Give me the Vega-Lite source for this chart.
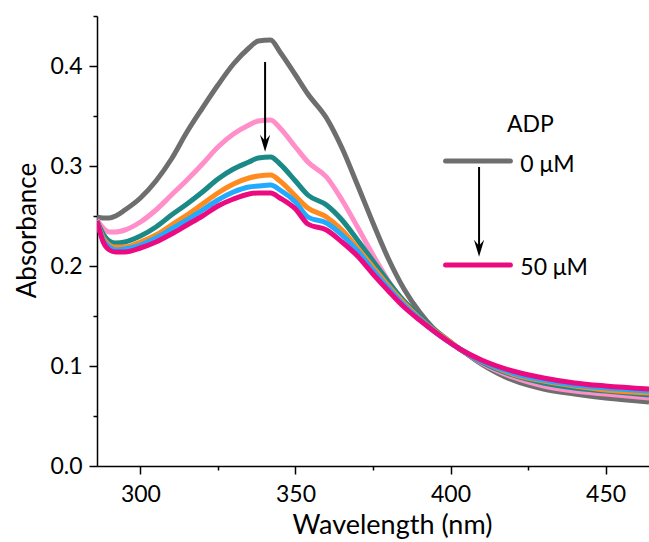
{
  "$schema": "https://vega.github.io/schema/vega-lite/v6.json",
  "width": 552,
  "height": 450,
  "autosize": "none",
  "padding": {"left": 97, "top": 16, "right": 0, "bottom": 76},
  "background": "white",
  "config": {
    "view": {"stroke": null},
    "font": "Lato",
    "axis": {"grid": false, "domainColor": "black", "domainWidth": 1.5, "tickColor": "black", "tickWidth": 1.5, "labelFont": "Lato", "labelFontSize": 23, "labelColor": "black", "titleFont": "Lato", "titleFontWeight": "normal", "titleColor": "black", "labelOverlap": false, "labelFlush": false}
  },
  "layer": [
    {
      "data": {"values": [
        {"c":"0","w":286,"a":0.249},{"c":"0","w":288,"a":0.248},{"c":"0","w":290,"a":0.248},{"c":"0","w":292,"a":0.250},{"c":"0","w":295,"a":0.256},{"c":"0","w":300,"a":0.268},{"c":"0","w":305,"a":0.285},{"c":"0","w":310,"a":0.307},{"c":"0","w":315,"a":0.334},{"c":"0","w":320,"a":0.358},{"c":"0","w":325,"a":0.381},{"c":"0","w":330,"a":0.402},{"c":"0","w":335,"a":0.418},{"c":"0","w":338,"a":0.425},{"c":"0","w":342,"a":0.426},{"c":"0","w":345,"a":0.414},{"c":"0","w":350,"a":0.391},{"c":"0","w":354,"a":0.372},{"c":"0","w":360,"a":0.348},{"c":"0","w":365,"a":0.318},{"c":"0","w":370,"a":0.281},{"c":"0","w":375,"a":0.243},{"c":"0","w":380,"a":0.207},{"c":"0","w":385,"a":0.177},{"c":"0","w":390,"a":0.154},{"c":"0","w":395,"a":0.136},{"c":"0","w":400,"a":0.123},{"c":"0","w":403,"a":0.117},{"c":"0","w":410,"a":0.102},{"c":"0","w":420,"a":0.086},{"c":"0","w":430,"a":0.077},{"c":"0","w":440,"a":0.072},{"c":"0","w":450,"a":0.068},{"c":"0","w":464,"a":0.064},
        {"c":"10","w":286,"a":0.246},{"c":"10","w":288,"a":0.238},{"c":"10","w":290,"a":0.234},{"c":"10","w":292,"a":0.234},{"c":"10","w":295,"a":0.236},{"c":"10","w":300,"a":0.244},{"c":"10","w":305,"a":0.256},{"c":"10","w":310,"a":0.271},{"c":"10","w":315,"a":0.286},{"c":"10","w":320,"a":0.302},{"c":"10","w":325,"a":0.319},{"c":"10","w":330,"a":0.332},{"c":"10","w":335,"a":0.341},{"c":"10","w":338,"a":0.345},{"c":"10","w":342,"a":0.346},{"c":"10","w":345,"a":0.338},{"c":"10","w":350,"a":0.319},{"c":"10","w":354,"a":0.304},{"c":"10","w":360,"a":0.289},{"c":"10","w":365,"a":0.266},{"c":"10","w":370,"a":0.239},{"c":"10","w":375,"a":0.211},{"c":"10","w":380,"a":0.185},{"c":"10","w":385,"a":0.163},{"c":"10","w":390,"a":0.147},{"c":"10","w":395,"a":0.134},{"c":"10","w":400,"a":0.123},{"c":"10","w":403,"a":0.117},{"c":"10","w":410,"a":0.103},{"c":"10","w":420,"a":0.089},{"c":"10","w":430,"a":0.080},{"c":"10","w":440,"a":0.075},{"c":"10","w":450,"a":0.072},{"c":"10","w":464,"a":0.068},
        {"c":"20","w":286,"a":0.245},{"c":"20","w":288,"a":0.232},{"c":"20","w":290,"a":0.225},{"c":"20","w":292,"a":0.223},{"c":"20","w":295,"a":0.224},{"c":"20","w":300,"a":0.230},{"c":"20","w":305,"a":0.239},{"c":"20","w":310,"a":0.251},{"c":"20","w":315,"a":0.262},{"c":"20","w":320,"a":0.274},{"c":"20","w":325,"a":0.287},{"c":"20","w":330,"a":0.297},{"c":"20","w":335,"a":0.304},{"c":"20","w":338,"a":0.308},{"c":"20","w":342,"a":0.309},{"c":"20","w":345,"a":0.302},{"c":"20","w":350,"a":0.285},{"c":"20","w":354,"a":0.271},{"c":"20","w":360,"a":0.261},{"c":"20","w":365,"a":0.246},{"c":"20","w":370,"a":0.226},{"c":"20","w":375,"a":0.205},{"c":"20","w":380,"a":0.184},{"c":"20","w":385,"a":0.165},{"c":"20","w":390,"a":0.150},{"c":"20","w":395,"a":0.136},{"c":"20","w":400,"a":0.124},{"c":"20","w":403,"a":0.117},{"c":"20","w":410,"a":0.104},{"c":"20","w":420,"a":0.091},{"c":"20","w":430,"a":0.083},{"c":"20","w":440,"a":0.078},{"c":"20","w":450,"a":0.075},{"c":"20","w":464,"a":0.071},
        {"c":"30","w":286,"a":0.244},{"c":"30","w":288,"a":0.228},{"c":"30","w":290,"a":0.221},{"c":"30","w":292,"a":0.219},{"c":"30","w":295,"a":0.219},{"c":"30","w":300,"a":0.224},{"c":"30","w":305,"a":0.231},{"c":"30","w":310,"a":0.241},{"c":"30","w":315,"a":0.251},{"c":"30","w":320,"a":0.262},{"c":"30","w":325,"a":0.273},{"c":"30","w":330,"a":0.282},{"c":"30","w":335,"a":0.288},{"c":"30","w":338,"a":0.290},{"c":"30","w":342,"a":0.291},{"c":"30","w":345,"a":0.285},{"c":"30","w":350,"a":0.270},{"c":"30","w":354,"a":0.258},{"c":"30","w":360,"a":0.249},{"c":"30","w":365,"a":0.236},{"c":"30","w":370,"a":0.218},{"c":"30","w":375,"a":0.199},{"c":"30","w":380,"a":0.180},{"c":"30","w":385,"a":0.163},{"c":"30","w":390,"a":0.148},{"c":"30","w":395,"a":0.135},{"c":"30","w":400,"a":0.124},{"c":"30","w":403,"a":0.117},{"c":"30","w":410,"a":0.105},{"c":"30","w":420,"a":0.092},{"c":"30","w":430,"a":0.085},{"c":"30","w":440,"a":0.080},{"c":"30","w":450,"a":0.076},{"c":"30","w":464,"a":0.073},
        {"c":"40","w":286,"a":0.244},{"c":"40","w":288,"a":0.226},{"c":"40","w":290,"a":0.219},{"c":"40","w":292,"a":0.216},{"c":"40","w":295,"a":0.217},{"c":"40","w":300,"a":0.221},{"c":"40","w":305,"a":0.228},{"c":"40","w":310,"a":0.237},{"c":"40","w":315,"a":0.246},{"c":"40","w":320,"a":0.256},{"c":"40","w":325,"a":0.266},{"c":"40","w":330,"a":0.274},{"c":"40","w":335,"a":0.279},{"c":"40","w":338,"a":0.280},{"c":"40","w":342,"a":0.281},{"c":"40","w":345,"a":0.276},{"c":"40","w":350,"a":0.264},{"c":"40","w":354,"a":0.249},{"c":"40","w":360,"a":0.243},{"c":"40","w":365,"a":0.231},{"c":"40","w":370,"a":0.215},{"c":"40","w":375,"a":0.196},{"c":"40","w":380,"a":0.178},{"c":"40","w":385,"a":0.161},{"c":"40","w":390,"a":0.147},{"c":"40","w":395,"a":0.134},{"c":"40","w":400,"a":0.123},{"c":"40","w":403,"a":0.117},{"c":"40","w":410,"a":0.105},{"c":"40","w":420,"a":0.093},{"c":"40","w":430,"a":0.086},{"c":"40","w":440,"a":0.081},{"c":"40","w":450,"a":0.078},{"c":"40","w":464,"a":0.075},
        {"c":"50","w":286,"a":0.245},{"c":"50","w":288,"a":0.224},{"c":"50","w":290,"a":0.216},{"c":"50","w":292,"a":0.214},{"c":"50","w":295,"a":0.214},{"c":"50","w":300,"a":0.218},{"c":"50","w":305,"a":0.224},{"c":"50","w":310,"a":0.232},{"c":"50","w":315,"a":0.241},{"c":"50","w":320,"a":0.250},{"c":"50","w":325,"a":0.260},{"c":"50","w":330,"a":0.267},{"c":"50","w":335,"a":0.272},{"c":"50","w":338,"a":0.273},{"c":"50","w":342,"a":0.273},{"c":"50","w":345,"a":0.268},{"c":"50","w":350,"a":0.257},{"c":"50","w":354,"a":0.242},{"c":"50","w":360,"a":0.236},{"c":"50","w":365,"a":0.224},{"c":"50","w":370,"a":0.210},{"c":"50","w":375,"a":0.192},{"c":"50","w":380,"a":0.175},{"c":"50","w":385,"a":0.159},{"c":"50","w":390,"a":0.146},{"c":"50","w":395,"a":0.134},{"c":"50","w":400,"a":0.123},{"c":"50","w":403,"a":0.117},{"c":"50","w":410,"a":0.106},{"c":"50","w":420,"a":0.095},{"c":"50","w":430,"a":0.088},{"c":"50","w":440,"a":0.083},{"c":"50","w":450,"a":0.080},{"c":"50","w":464,"a":0.077}
      ]},
      "mark": {"type": "line", "strokeJoin": "round", "strokeWidth": 5, "interpolate": "monotone", "clip": true},
      "encoding": {
        "x": {"field": "w", "type": "quantitative", "scale": {"domain": [286, 464], "nice": false, "zero": false},
          "axis": {"title": "Wavelength (nm)", "titleFontSize": 27, "values": [300, 325, 350, 375, 400, 425, 450], "tickSize": {"condition": {"test": "datum.value % 50 == 0", "value": 8}, "value": 4}, "labelExpr": "datum.value % 50 == 0 ? datum.label : ''", "labelPadding": 9, "titleX": 295, "titleY": 67, "titleAlign": "center", "titleBaseline": "alphabetic"}},
        "y": {"field": "a", "type": "quantitative", "scale": {"domain": [0, 0.45], "nice": false},
          "axis": {"title": "Absorbance", "titleFontSize": 26, "values": [0, 0.05, 0.1, 0.15, 0.2, 0.25, 0.3, 0.35, 0.4, 0.45], "format": ".1f", "tickSize": {"condition": {"test": "round(datum.value*20) % 2 == 0", "value": 8}, "value": 4}, "labelExpr": "round(datum.value*20) % 2 == 0 ? format(datum.value, '.1f') : ''", "labelPadding": 7, "titleX": -62, "titleY": 214, "titleAlign": "center", "titleBaseline": "alphabetic", "titleAngle": 270}},
        "color": {"field": "c", "type": "nominal", "scale": {"domain": ["0", "10", "20", "30", "40", "50"], "range": ["#6e6e6e", "#ff8ec9", "#1b8a86", "#ff8b1e", "#22aaff", "#ec0a80"]}, "legend": null},
        "order": {"field": "w", "type": "quantitative"}
      }
    },
    {
      "data": {"values": [
        {"c": "0", "x1": 398.4, "x2": 419.3, "y": 0.305},
        {"c": "50", "x1": 398.4, "x2": 419.3, "y": 0.201}
      ]},
      "mark": {"type": "rule", "strokeWidth": 5, "strokeCap": "round"},
      "encoding": {
        "x": {"field": "x1", "type": "quantitative"},
        "x2": {"field": "x2"},
        "y": {"field": "y", "type": "quantitative"},
        "color": {"field": "c", "type": "nominal", "legend": null}
      }
    },
    {
      "data": {"values": [
        {"x": 340.2, "y1": 0.404, "y2": 0.322},
        {"x": 409.2, "y1": 0.299, "y2": 0.217}
      ]},
      "mark": {"type": "rule", "strokeWidth": 2, "color": "black"},
      "encoding": {
        "x": {"field": "x", "type": "quantitative"},
        "y": {"field": "y1", "type": "quantitative"},
        "y2": {"field": "y2"}
      }
    },
    {
      "data": {"values": [
        {"x": 340.2, "y": 0.3143},
        {"x": 409.2, "y": 0.2093}
      ]},
      "mark": {"type": "point", "shape": "M0,0 L-0.6,-2 L0,-1.3 L0.6,-2 Z", "size": 289, "filled": true, "color": "black", "opacity": 1, "strokeWidth": 0},
      "encoding": {
        "x": {"field": "x", "type": "quantitative"},
        "y": {"field": "y", "type": "quantitative"}
      }
    },
    {
      "data": {"values": [
        {"t": "ADP", "x": 418.2, "y": 0.3343},
        {"t": "0 μM", "x": 422.5, "y": 0.2943},
        {"t": "50 μM", "x": 422.5, "y": 0.191}
      ]},
      "mark": {"type": "text", "align": "left", "baseline": "alphabetic", "font": "Lato", "fontSize": 23, "color": "black"},
      "encoding": {
        "x": {"field": "x", "type": "quantitative"},
        "y": {"field": "y", "type": "quantitative"},
        "text": {"field": "t"}
      }
    }
  ]
}
